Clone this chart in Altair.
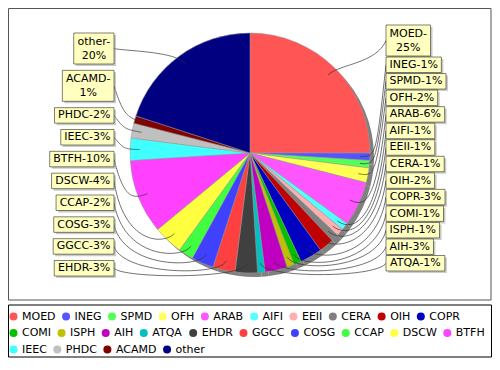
import math
import altair as alt
import pandas as pd

# ---------------- data ----------------
names = ["MOED", "INEG", "SPMD", "OFH", "ARAB", "AIFI", "EEII", "CERA", "OIH", "COPR",
         "COMI", "ISPH", "AIH", "ATQA", "EHDR", "GGCC", "COSG", "CCAP", "DSCW", "BTFH",
         "IEEC", "PHDC", "ACAMD", "other"]
shares = [25, 1, 1, 2, 6, 1, 1, 1, 2, 3,
          1, 1, 3, 1, 3, 3, 3, 2, 4, 10,
          3, 2, 1, 20]
colors = ["#ff5555", "#5555ff", "#55ff55", "#ffff55", "#ff55ff", "#55ffff", "#ffafaf", "#808080", "#c00000", "#0000c0",
          "#00c000", "#c0c000", "#c000c0", "#00c0c0", "#404040", "#ff4040", "#4040ff", "#40ff40", "#ffff40", "#ff40ff",
          "#40ffff", "#c0c0c0", "#800000", "#000080"]

# ---------------- layout constants ----------------
W, H = 484, 350
CX, CY, R = 242, 145, 120
SHADOW = 4
LINK_R = 126
LINK_DEPTH = 0.92
LABEL_DX = 136
RIGHT_SPAN = (17, 263)
LEFT_SPAN = (25, 268)
FONT = "DejaVu Sans"
LABEL_SIZE = 11
LINE_STEP = 15.5
TEXT_LH = 14
PAD_X = 3.5
MAX_LABEL_EM = 5.22
# legend layout
LEG_BOX = (0.5, 297, 483.5, 349)
LEG_PER_ROW = 10
LEG_X0 = 5.5
LEG_ROW_Y0 = 308.5
LEG_ROW_STEP = 16.5
LEG_FONT = 11
LEG_SYM_TO_TEXT = 8.5
LEG_TEXT_TO_SYM = 10.5

# DejaVu Sans advance widths (em)
EM = {"A": .684, "B": .686, "C": .698, "D": .770, "E": .632, "F": .575, "G": .775, "H": .752,
      "I": .295, "J": .295, "K": .656, "L": .557, "M": .863, "N": .748, "O": .787, "P": .603,
      "Q": .787, "R": .695, "S": .635, "T": .611, "U": .732, "V": .684, "W": .989, "X": .685,
      "Y": .611, "Z": .685, "-": .361, "%": .950, "o": .612, "t": .392, "h": .634, "e": .615,
      "r": .411}


def em_width(s):
    return sum(EM.get(c, .636) for c in s)


total = sum(shares)
pie_df = pd.DataFrame({"name": names, "value": shares, "idx": list(range(len(names)))})

# ---------------- slice labels ----------------
recs = []
cum = 0
for i, (n, v) in enumerate(zip(names, shares)):
    mid = (cum + v / 2) / total * 2 * math.pi
    cum += v
    text = f"{n}-{v}%"
    lines = [f"{n}-", f"{v}%"] if em_width(text) > MAX_LABEL_EM else [text]
    w = max(em_width(l) for l in lines) * LABEL_SIZE + 2 * PAD_X
    h = LINE_STEP * len(lines)
    recs.append(dict(name=n, mid=mid, lines=lines, w=w, h=h,
                     side="right" if mid < math.pi else "left"))


def spread(group, top, bottom):
    gap = (bottom - top - sum(r["h"] for r in group)) / max(len(group) - 1, 1)
    y = top
    for r in group:
        r["y1"] = y
        r["y2"] = y + r["h"]
        y += r["h"] + gap


right = sorted([r for r in recs if r["side"] == "right"], key=lambda r: r["mid"])
left = sorted([r for r in recs if r["side"] == "left"], key=lambda r: -r["mid"])
spread(right, *RIGHT_SPAN)
spread(left, *LEFT_SPAN)

box_rows, line_rows = [], []
for r in recs:
    s = 1 if r["side"] == "right" else -1
    if s == 1:
        x1 = CX + LABEL_DX
        x2 = x1 + r["w"]
    else:
        x2 = CX - LABEL_DX
        x1 = x2 - r["w"]
    yc = (r["y1"] + r["y2"]) / 2
    box_rows.append(dict(name=r["name"], x1=x1, x2=x2, y1=r["y1"], y2=r["y2"],
                         xc=(x1 + x2) / 2, ty=yc - (len(r["lines"]) - 1) * TEXT_LH / 2,
                         label="\n".join(r["lines"])))
    dx, dy = math.sin(r["mid"]), -math.cos(r["mid"])
    p0 = (CX + s * LABEL_DX, yc)
    p2 = (CX + LINK_R * dx, CY + LINK_R * dy)
    p1 = (CX + s * LINK_R, p2[1])
    p3 = (CX + LINK_DEPTH * R * dx, CY + LINK_DEPTH * R * dy)
    for k in range(41):
        t = k / 40
        a, b, c, d = (1 - t) ** 3, 3 * (1 - t) ** 2 * t, 3 * (1 - t) * t ** 2, t ** 3
        line_rows.append(dict(name=r["name"], t=k,
                              x=a * p0[0] + b * p1[0] + c * p2[0] + d * p3[0],
                              y=a * p0[1] + b * p1[1] + c * p2[1] + d * p3[1]))

box_df = pd.DataFrame(box_rows)
line_df = pd.DataFrame(line_rows)

# ---------------- legend entries (flow layout) ----------------
leg_rows = []
for i, n in enumerate(names):
    row, col = divmod(i, LEG_PER_ROW)
    if col == 0:
        x = LEG_X0
    leg_rows.append(dict(name=n, sx=x, tx=x + LEG_SYM_TO_TEXT, y=LEG_ROW_Y0 + row * LEG_ROW_STEP))
    x += LEG_SYM_TO_TEXT + em_width(n) * LEG_FONT + LEG_TEXT_TO_SYM
leg_df = pd.DataFrame(leg_rows)

# ---------------- chart ----------------
color_scale = alt.Scale(domain=names, range=colors)

frame = alt.Chart(pd.DataFrame({"k": [0]})).mark_rect(
    fill="white", stroke="#555555", strokeWidth=1
).encode(x=alt.value(0.5), x2=alt.value(483), y=alt.value(0.5), y2=alt.value(292))

legend_frame = alt.Chart(pd.DataFrame({"k": [0]})).mark_rect(
    fill="white", stroke="#000000", strokeWidth=1
).encode(x=alt.value(LEG_BOX[0]), x2=alt.value(LEG_BOX[2]),
         y=alt.value(LEG_BOX[1]), y2=alt.value(LEG_BOX[3]))

shadow = alt.Chart(pie_df).mark_arc(radius=R, color="#808080").encode(
    theta=alt.Theta("value:Q", stack=True),
    order=alt.Order("idx:Q"),
    x=alt.value(CX + SHADOW), y=alt.value(CY + SHADOW),
)

pie = alt.Chart(pie_df).mark_arc(radius=R, stroke="#9a9a9a", strokeWidth=0.5).encode(
    theta=alt.Theta("value:Q", stack=True),
    order=alt.Order("idx:Q"),
    color=alt.Color("name:N", scale=color_scale, legend=None),
    x=alt.value(CX), y=alt.value(CY),
)

links = alt.Chart(line_df).mark_line(color="#333333", strokeWidth=0.7).encode(
    x=alt.X("x:Q", scale=None, axis=None),
    y=alt.Y("y:Q", scale=None, axis=None),
    detail="name:N",
    order="t:Q",
)

box_shadow = alt.Chart(box_df).mark_rect(
    color="#979797", opacity=0.5, xOffset=2, x2Offset=2, yOffset=2, y2Offset=2
).encode(
    x=alt.X("x1:Q", scale=None, axis=None), x2="x2:Q",
    y=alt.Y("y1:Q", scale=None, axis=None), y2="y2:Q",
)

boxes = alt.Chart(box_df).mark_rect(fill="#ffffc0", stroke="#000000", strokeWidth=0.5).encode(
    x=alt.X("x1:Q", scale=None, axis=None), x2="x2:Q",
    y=alt.Y("y1:Q", scale=None, axis=None), y2="y2:Q",
)

texts = alt.Chart(box_df).mark_text(
    font=FONT, fontSize=LABEL_SIZE, lineBreak="\n", lineHeight=TEXT_LH,
    align="center", baseline="middle", color="black"
).encode(
    x=alt.X("xc:Q", scale=None, axis=None),
    y=alt.Y("ty:Q", scale=None, axis=None),
    text="label:N",
)

leg_symbols = alt.Chart(leg_df).mark_point(filled=True, shape="circle", size=64, opacity=1).encode(
    x=alt.X("sx:Q", scale=None, axis=None),
    y=alt.Y("y:Q", scale=None, axis=None),
    color=alt.Color("name:N", scale=color_scale, legend=None),
)

leg_texts = alt.Chart(leg_df).mark_text(
    font=FONT, fontSize=LEG_FONT, align="left", baseline="middle", color="black"
).encode(
    x=alt.X("tx:Q", scale=None, axis=None),
    y=alt.Y("y:Q", scale=None, axis=None),
    text="name:N",
)

chart = alt.layer(frame, shadow, pie, links, box_shadow, boxes, texts,
                  legend_frame, leg_symbols, leg_texts).properties(
    width=W, height=H, padding=0,
    autosize=alt.AutoSizeParams(type="none"),
    background="white",
).configure_view(strokeWidth=0)

chart.save("out.html", embed_options={"renderer": "svg", "actions": False})
